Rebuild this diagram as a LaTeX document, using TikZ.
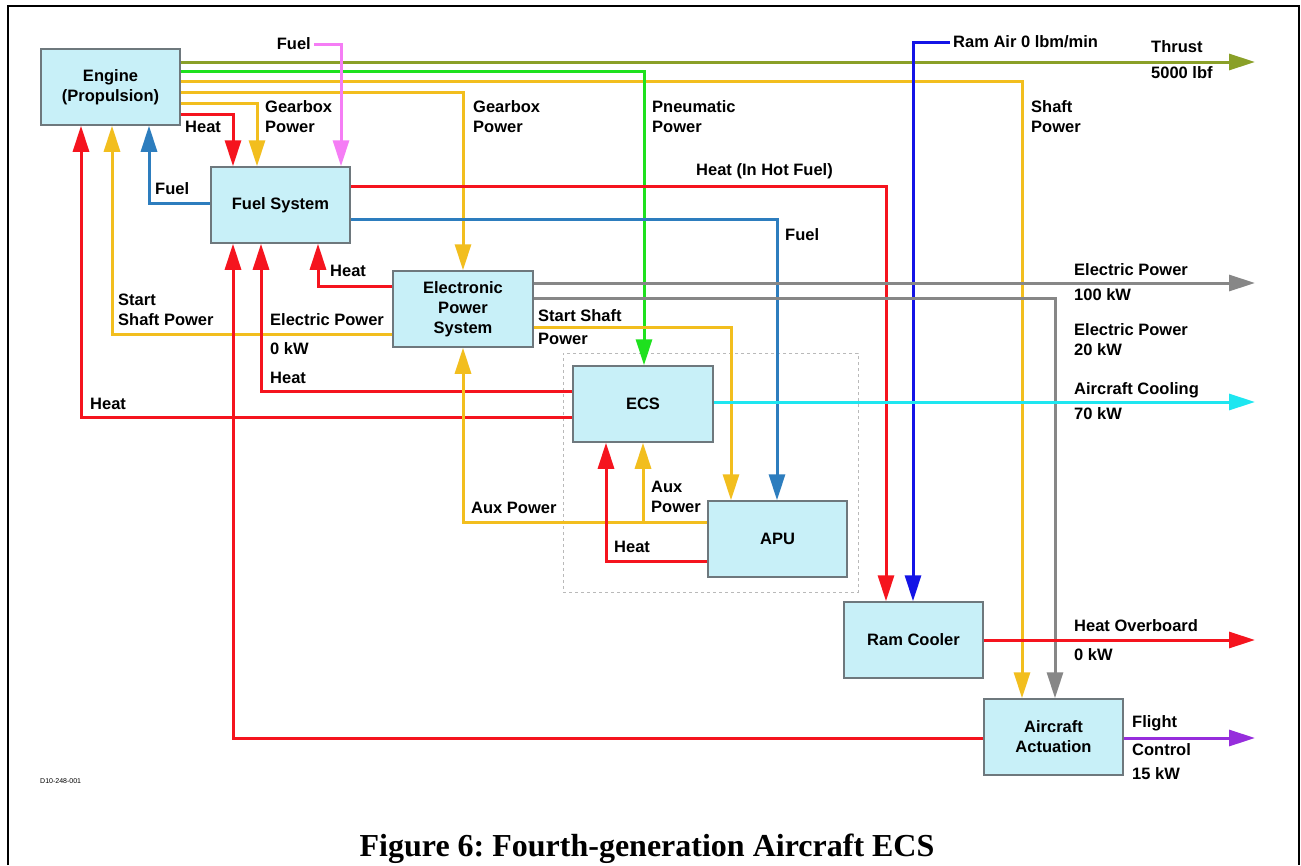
\documentclass[tikz,border=0pt]{standalone}
\usepackage{fontspec}
\setmainfont{Liberation Serif}
\newfontfamily\arialf{Liberation Sans}
\usetikzlibrary{arrows.meta}
\frenchspacing
\definecolor{boxfill}{RGB}{200,240,248}
\definecolor{boxline}{RGB}{110,120,125}
\definecolor{cred}{RGB}{245,20,30}
\definecolor{cyel}{RGB}{242,190,30}
\definecolor{cgreen}{RGB}{30,225,30}
\definecolor{colive}{RGB}{138,160,40}
\definecolor{cpink}{RGB}{245,125,245}
\definecolor{csteel}{RGB}{45,125,190}
\definecolor{cblue}{RGB}{20,20,230}
\definecolor{cgray}{RGB}{135,135,135}
\definecolor{ccyan}{RGB}{30,230,240}
\definecolor{cpurple}{RGB}{150,45,220}
\newcommand{\lblfont}{\arialf\bfseries\fontsize{16.5}{20}\selectfont}
\tikzset{
 sysbox/.style={draw=boxline, line width=1.5pt, fill=boxfill, minimum width=139pt, minimum height=76pt, inner sep=0pt, align=center, font=\lblfont},
 lbl/.style={inner sep=0pt, align=left, anchor=north west, font=\lblfont},
 flow/.style={line width=3pt},
 arr/.style={flow, -{Triangle[length=26pt,width=16pt]}},
}
\begin{document}
\begin{tikzpicture}[x=1pt,y=-1pt]
\useasboundingbox (0,0) rectangle (1301,865);
\fill[white] (0,0) rectangle (1301,865);
\draw[line width=2pt] (8,865) -- (8,6) -- (1299,6) -- (1299,865);

% boxes
\node[sysbox] (eng) at (110.5,87) {Engine\\(Propulsion)};
\node[sysbox] (fuel) at (280.5,205) {Fuel System};
\node[sysbox, minimum width=140pt] (eps) at (463,309) {Electronic\\Power\\System};
\node[sysbox, minimum width=140pt] (ecs) at (643,404) {ECS};
\node[sysbox] (apu) at (777.5,539) {APU};
\node[sysbox] (ram) at (913.5,640) {Ram Cooler};
\node[sysbox] (act) at (1053.5,737) {Aircraft\\Actuation};
\node[draw=gray!55, dashed, line width=0.8pt, minimum width=295pt, minimum height=239pt, inner sep=0pt] (grp) at (710.5,472.5) {};

% coordinates
\coordinate (thr) at (1255,62);
\coordinate (pn) at (644,71);
\coordinate (sp) at (1022,81);
\coordinate (gb2) at (463,92);
\coordinate (gb1) at (257,103);
\coordinate (he) at (233,114);
\coordinate (pk) at (341,44);
\coordinate (ra) at (913,42);
\coordinate (fb) at (149,203);
\coordinate (hh) at (886,186);
\coordinate (fa) at (777,219);
\coordinate (he2) at (81,417);
\coordinate (ss) at (112,334);
\coordinate (ha) at (233,738);
\coordinate (hf) at (261,391);
\coordinate (hp) at (318,286);
\coordinate (ep1) at (1255,283);
\coordinate (ep2) at (1055,298);
\coordinate (ssa) at (731,327);
\coordinate (cool) at (1255,402);
\coordinate (ax) at (463,522);
\coordinate (ax2) at (643,522);
\coordinate (hx) at (606,561);
\coordinate (ho) at (1255,640);
\coordinate (fc) at (1255,738);

% label nodes attached to connectors
\node[lbl, anchor=east, inner xsep=3pt] (fuellbl) at (314,44) {Fuel};
\node[lbl, anchor=west, inner xsep=3pt] (ramlbl) at (950,42) {Ram Air 0 lbm/min};

% connectors
\draw[arr, colive] (eng.east |- thr) -- (thr);
\draw[arr, cyel] (eng.east |- sp) -- (sp) -- (sp |- act.north);
\draw[arr, cgreen] (eng.east |- pn) -- (pn) -- (pn |- ecs.north);
\draw[arr, cyel] (eng.east |- gb2) -- (gb2) -- (gb2 |- eps.north);
\draw[arr, cyel] (eng.east |- gb1) -- (gb1) -- (gb1 |- fuel.north);
\draw[arr, cred] (eng.east |- he) -- (he) -- (he |- fuel.north);
\draw[arr, cpink] (fuellbl.east |- pk) -- (pk) -- (pk |- fuel.north);
\draw[arr, csteel] (fuel.west |- fb) -- (fb) -- (fb |- eng.south);
\draw[arr, cred] (fuel.east |- hh) -- (hh) -- (hh |- ram.north);
\draw[arr, csteel] (fuel.east |- fa) -- (fa) -- (fa |- apu.north);
\draw[arr, cblue] (ramlbl.west |- ra) -- (ra) -- (ra |- ram.north);
\draw[arr, cred] (ecs.west |- he2) -- (he2) -- (he2 |- eng.south);
\draw[arr, cyel] (eps.west |- ss) -- (ss) -- (ss |- eng.south);
\draw[arr, cred] (act.west |- ha) -- (ha) -- (ha |- fuel.south);
\draw[arr, cred] (ecs.west |- hf) -- (hf) -- (hf |- fuel.south);
\draw[arr, cred] (eps.west |- hp) -- (hp) -- (hp |- fuel.south);
\draw[arr, cgray] (eps.east |- ep1) -- (ep1);
\draw[arr, cgray] (eps.east |- ep2) -- (ep2) -- (ep2 |- act.north);
\draw[arr, cyel] (eps.east |- ssa) -- (ssa) -- (ssa |- apu.north);
\draw[arr, ccyan] (ecs.east |- cool) -- (cool);
\draw[arr, cyel] (apu.west |- ax) -- (ax) -- (ax |- eps.south);
\draw[arr, cyel] (ax2) -- (ax2 |- ecs.south);
\draw[arr, cred] (apu.west |- hx) -- (hx) -- (hx |- ecs.south);
\draw[arr, cred] (ram.east |- ho) -- (ho);
\draw[arr, cpurple] (act.east |- fc) -- (fc);

% labels
\node[lbl] (l1) at (185,120.5) {Heat};
\node[lbl] (l2) at (265,100.5) {Gearbox\\Power};
\node[lbl] (l3) at (473,100.5) {Gearbox\\Power};
\node[lbl] (l4) at (652,100.5) {Pneumatic\\Power};
\node[lbl] (l5) at (1031,100.5) {Shaft\\Power};
\node[lbl] (l6) at (696,163.5) {Heat (In Hot Fuel)};
\node[lbl] (l7) at (1151,40.5) {Thrust\\[6pt]5000 lbf};
\node[lbl] (l8) at (155,182.5) {Fuel};
\node[lbl] (l9) at (785,228.5) {Fuel};
\node[lbl] (l10) at (330,264.5) {Heat};
\node[lbl] (l11) at (118,293.5) {Start\\Shaft Power};
\node[lbl] (l12) at (270,313.5) {Electric Power\\[9pt]0 kW};
\node[lbl] (l13) at (270,371.5) {Heat};
\node[lbl] (l14) at (90,397.5) {Heat};
\node[lbl] (l15) at (538,309.5) {Start Shaft\\[3pt]Power};
\node[lbl] (l16) at (1074,263.5) {Electric Power\\[5pt]100 kW};
\node[lbl] (l17) at (1074,323.5) {Electric Power\\20 kW};
\node[lbl] (l18) at (1074,382.5) {Aircraft Cooling\\[5pt]70 kW};
\node[lbl] (l19) at (471,501.5) {Aux Power};
\node[lbl] (l20) at (651,480.5) {Aux\\Power};
\node[lbl] (l21) at (614,540.5) {Heat};
\node[lbl] (l22) at (1074,619.5) {Heat Overboard\\[9pt]0 kW};
\node[lbl] (l23) at (1132,715.5) {Flight\\[8pt]Control\\[4pt]15 kW};
\node[anchor=west, inner sep=0pt, font=\arialf\fontsize{7}{8}\selectfont] (code) at (40,781) {D10-248-001};
\node[anchor=base, inner sep=0pt, font=\bfseries\fontsize{32}{34}\selectfont] (cap) at (647,856) {Figure 6: Fourth-generation Aircraft ECS};
\end{tikzpicture}
\end{document}
